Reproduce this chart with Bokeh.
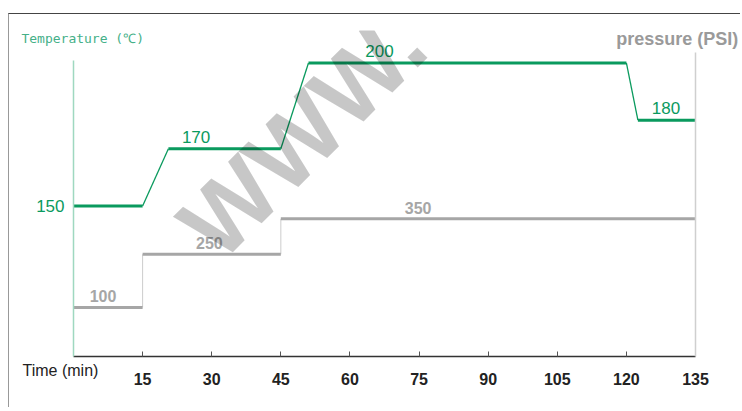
import math
from bokeh.plotting import figure
from bokeh.models import Range1d, LinearAxis, FixedTicker
from bokeh.core.properties import value
from bokeh.embed import file_html
from bokeh.resources import INLINE

# ---- data ----
time_ticks = [15, 30, 45, 60, 75, 90, 105, 120, 135]

temp_values = [150, 170, 200, 180]          # °C plateaus
temp_start = [0, 20.6, 51.0, 122.5]          # min, plateau start
temp_end = [15, 45, 120, 135]                # min, plateau end

pressure_values = [100, 250, 350]            # PSI plateaus
pressure_start = [0, 15, 45]
pressure_end = [15, 45, 135]

temp_label_t = [26.6, 66.4, 128.6]           # label centres for 170, 200, 180
pressure_label_t = [6.4, 29.5, 74.8]         # label centres for 100, 250, 350

title_temp = "Temperature (℃)"
title_pressure = "pressure (PSI)"
title_time = "Time (min)"
watermark = "WWW."

GREEN = "#0a9a5e"
GRAY = "#a6a6a6"

T_RANGE = (97.43, 211.34)
P_RANGE = (-38.5, 881.6)

p = figure(width=732, height=394,
           x_range=Range1d(0, 135), y_range=Range1d(*T_RANGE),
           output_backend="svg", toolbar_location=None,
           min_border_left=64, min_border_right=46,
           min_border_top=16, min_border_bottom=52)
p.extra_y_ranges = {"pressure": Range1d(*P_RANGE)}
p.grid.visible = False
p.outline_line_color = None
p.background_fill_color = "white"
p.border_fill_color = "white"


def bare(axis):
    axis.axis_line_color = None
    axis.major_tick_line_color = None
    axis.minor_tick_line_color = None
    axis.major_tick_in = 0
    axis.major_tick_out = 0
    axis.minor_tick_in = 0
    axis.minor_tick_out = 0


# bottom axis
xa = p.xaxis[0]
xa.ticker = FixedTicker(ticks=time_ticks)
xa.axis_line_color = "#333333"
xa.axis_line_width = 1.5
xa.major_tick_in = 5
xa.major_tick_out = 0
xa.minor_tick_out = 0
xa.major_tick_line_color = "#555555"
xa.minor_tick_line_color = None
xa.major_label_text_font = "Liberation Sans"
xa.major_label_text_font_style = "bold"
xa.major_label_text_font_size = "16px"
xa.major_label_text_color = "#222222"
xa.major_label_standoff = 16

# "Time (min)" caption on a second bottom axis (label right-aligned on its tick)
ta = LinearAxis(ticker=FixedTicker(ticks=[5.4]),
                major_label_overrides={5.4: title_time},
                major_label_orientation=0.0001)
bare(ta)
ta.major_label_text_font = "Liberation Sans"
ta.major_label_text_font_size = "16px"
ta.major_label_text_color = "#222222"
ta.major_label_standoff = -17
p.add_layout(ta, "below")

# left (temperature) axis
ya = p.yaxis[0]
ya.ticker = FixedTicker(ticks=[temp_values[0]])
ya.bounds = (T_RANGE[0], 200.9)
ya.axis_line_color = "#9fd8c0"
ya.axis_line_width = 1.5
ya.major_tick_line_color = None
ya.minor_tick_line_color = None
ya.major_tick_out = 0
ya.major_tick_in = 0
ya.minor_tick_out = 0
ya.major_label_text_color = GREEN
ya.major_label_text_font = "Liberation Sans"
ya.major_label_text_font_size = "17px"
ya.major_label_standoff = 9

# right (pressure) axis
ra = LinearAxis(y_range_name="pressure", ticker=FixedTicker(ticks=[]),
                bounds=(P_RANGE[0], 819.5))
bare(ra)
ra.axis_line_color = "#cfcfcf"
ra.axis_line_width = 1.5
ra.major_label_text_font_size = "0px"
p.add_layout(ra, "right")

# top captions on two bare top axes
ha = LinearAxis(ticker=FixedTicker(ticks=[2]), major_label_overrides={2: title_temp})
bare(ha)
ha.major_label_text_font = "DejaVu Sans Mono"
ha.major_label_text_font_size = "13px"
ha.major_label_text_color = "#45b088"
ha.major_label_standoff = -15
p.add_layout(ha, "above")

hb = LinearAxis(ticker=FixedTicker(ticks=[132]), major_label_overrides={132: title_pressure})
bare(hb)
hb.major_label_text_font = "Liberation Sans"
hb.major_label_text_font_style = "bold"
hb.major_label_text_font_size = "18px"
hb.major_label_text_color = "#9a9a9a"
hb.major_label_standoff = -21
p.add_layout(hb, "above")

# pressure: vertical connectors then plateaus
p.segment(x0=pressure_end[:-1], y0=pressure_values[:-1],
          x1=pressure_end[:-1], y1=pressure_values[1:],
          line_width=1, line_color="#cccccc", y_range_name="pressure")
p.segment(x0=pressure_start, y0=pressure_values,
          x1=pressure_end, y1=pressure_values,
          line_width=3, line_color=GRAY, y_range_name="pressure")

# temperature: ramps then plateaus
p.segment(x0=temp_end[:-1], y0=temp_values[:-1],
          x1=temp_start[1:], y1=temp_values[1:],
          line_width=1.3, line_color=GREEN)
p.segment(x0=temp_start, y0=temp_values,
          x1=temp_end, y1=temp_values,
          line_width=3, line_color=GREEN)

# value labels just above their plateau
p.text(x=temp_label_t, y=temp_values[1:], text=[str(v) for v in temp_values[1:]],
       text_align="center", text_baseline="bottom", y_offset=-6,
       text_font=value("Liberation Sans"), text_font_size="17px", text_color=GREEN)
p.text(x=pressure_label_t, y=pressure_values, text=[str(v) for v in pressure_values],
       text_align="center", text_baseline="bottom", y_offset=-5,
       text_font=value("Liberation Sans"), text_font_style="bold",
       text_font_size="16px", text_color=GRAY, y_range_name="pressure")

# watermark (semi-transparent, drawn over the lines)
p.text(x=[26.7], y=[137.95], text=[watermark], angle=math.pi / 4,
       text_align="left", text_baseline="middle",
       text_font=value("Liberation Sans"), text_font_style="bold",
       text_font_size="98px", text_color="black", text_alpha=0.22)

p.margin = (13, 0, 0, 8)
p.styles = {"border-top": "1px solid #444444", "border-left": "1px solid #999999"}

open("out.html", "w").write(file_html(p, INLINE))
